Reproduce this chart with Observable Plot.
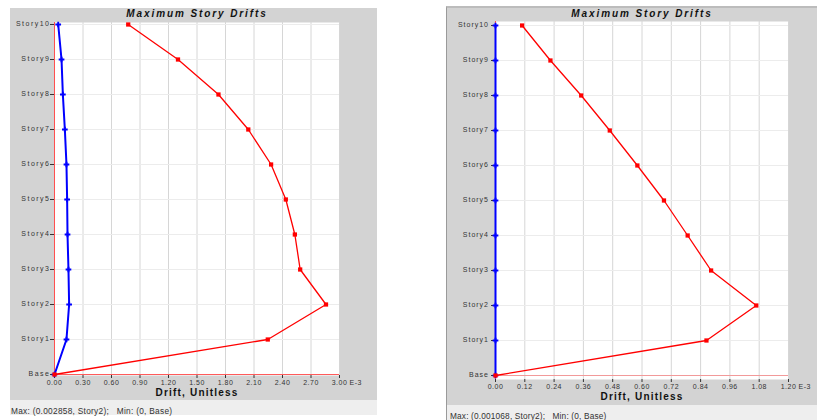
<!DOCTYPE html>
<html>
<head>
<meta charset="utf-8">
<script src="https://cdn.jsdelivr.net/npm/d3@7"></script>
<script src="https://cdn.jsdelivr.net/npm/@observablehq/plot@0.6"></script>
<style>
  html, body { margin: 0; padding: 0; background: #ffffff; }
  #root { position: relative; width: 817px; height: 420px; overflow: hidden; font-family: "Liberation Sans", Arial, sans-serif; }
  .panel { position: absolute; background: #d3d3d3; }
  .panel svg { display: block; }
  .status { position: absolute; background: #eeeeee; font-size: 8.3px; color: #333; white-space: pre; }
  .status span { position: absolute; left: 1px; }
</style>
</head>
<body>
<div id="root">
  <div class="panel" id="left" style="left:10px; top:8px; width:367px; height:392px;"></div>
  <div class="status" style="left:10px; top:400px; width:367px; height:15px;"><span id="lstat" style="top:6px; letter-spacing:0.28px;"></span></div>
  <div class="panel" id="right" style="left:446px; top:6px; width:371px; height:399px; border-left:1px solid #9a9a9a; box-sizing:border-box; border-top:2px solid #bcbcbc;"></div>
  <div class="status" style="left:446px; top:405px; width:371px; height:15px; border-left:1px solid #9a9a9a; box-sizing:border-box;"><span id="rstat" style="top:6px; left:3px; letter-spacing:0.16px;"></span></div>
</div>
<script>
const stories = ["Story10","Story9","Story8","Story7","Story6","Story5","Story4","Story3","Story2","Story1","Base"];

// Left chart (units of E-3)
const leftRed  = [0.776, 1.300, 1.726, 2.040, 2.280, 2.435, 2.530, 2.586, 2.858, 2.245, 0];
const leftBlue = [0.039, 0.074, 0.088, 0.109, 0.126, 0.133, 0.137, 0.147, 0.154, 0.126, 0];
const leftTicks = [0, 0.30, 0.60, 0.90, 1.20, 1.50, 1.80, 2.10, 2.40, 2.70, 3.00];
const leftStatus = "Max: (0.002858, Story2);   Min: (0, Base)";

// Right chart (units of E-3)
const rightRed  = [0.109, 0.225, 0.351, 0.468, 0.581, 0.690, 0.787, 0.883, 1.068, 0.864, 0];
const rightBlue = [0, 0, 0, 0, 0, 0, 0, 0, 0, 0, 0];
const rightTicks = [0, 0.12, 0.24, 0.36, 0.48, 0.60, 0.72, 0.84, 0.96, 1.08, 1.20];
const rightStatus = "Max: (0.001068, Story2);   Min: (0, Base)";

const titleText = "Maximum Story Drifts";
const xLabelText = "Drift, Unitless";
const unitText = "E-3";

function makeChart(o) {
  const rows = stories.map((s, i) => ({story: s, red: o.red[i], blue: o.blue[i]}));
  const xmax = o.ticks[o.ticks.length - 1];
  const svg = Plot.plot({
    width: o.width, height: o.height,
    marginLeft: o.ml, marginRight: o.mr, marginTop: o.mt, marginBottom: o.mb,
    style: {background: "transparent", fontFamily: "Liberation Sans, Arial, sans-serif", fontSize: "7px", overflow: "visible"},
    x: {domain: [0, xmax], axis: null},
    y: {type: "point", domain: stories, padding: 0, axis: null},
    marks: [
      Plot.frame({fill: "white", stroke: "none"}),
      Plot.gridX(o.ticks, {stroke: "#d6d6d6", strokeOpacity: 1, strokeWidth: 1}),
      Plot.gridY(stories, {stroke: "#ececec", strokeOpacity: 1, strokeWidth: 1}),
      Plot.ruleY(["Base"], {stroke: o.baseColor, strokeWidth: 1.2}),
      Plot.ruleX([0], {stroke: "#ff5050", strokeWidth: 1}),
      Plot.axisX(o.ticks, {tickSize: 3, tickPadding: 1.5, stroke: "#333", fill: "#333", label: null, tickFormat: d => d.toFixed(2), ariaDescription: "xticks"}),
      Plot.text([unitText], {x: xmax, frameAnchor: "bottom", text: d => d, textAnchor: "start", lineAnchor: "top", dx: 10, dy: 4.5, fill: "#333", ariaDescription: "xunit"}),
      Plot.axisY(stories, {tickSize: 4, tickPadding: 0, stroke: "#333", fill: "#333", label: null, tickFormat: () => ""}),
      Plot.axisY(stories, {tickSize: 0, tickPadding: 4 + o.yPad, dy: -1, fill: "#333", label: null, ariaDescription: "yticks"}),
      Plot.line(rows, {x: "blue", y: "story", stroke: "#0000ff", strokeWidth: 2}),
      Plot.dot(rows, {x: "blue", y: "story", symbol: "cross", r: 2.4, fill: "#0000ff", stroke: "none"}),
      Plot.line(rows, {x: "red", y: "story", stroke: "#ff0000", strokeWidth: 1.3}),
      Plot.dot(rows, {x: "red", y: "story", symbol: "square", r: 2.4, fill: "#ff0000", stroke: "none"}),
      Plot.text([titleText], {frameAnchor: "top", text: d => d, lineAnchor: "middle", dy: o.titleDy, fontSize: 10, fontWeight: "bold", fontStyle: "italic", fill: "#111", ariaDescription: "title"}),
      Plot.text([xLabelText], {frameAnchor: "bottom", text: d => d, lineAnchor: "middle", dy: 17, fontSize: 10, fontWeight: "bold", fill: "#111", ariaDescription: "xlabel"})
    ]
  });
  const s = d3.select(svg);
  s.selectAll('g[aria-description="title"] text').style("letter-spacing", "1.9px");
  s.selectAll('g[aria-description="xlabel"] text').style("letter-spacing", "1.2px");
  s.selectAll('g[aria-description="xticks"] text').style("letter-spacing", "0.5px");
  s.selectAll('g[aria-description="xunit"] text').style("letter-spacing", "0.5px");
  s.selectAll('g[aria-description="yticks"] text').style("letter-spacing", o.yLs);
  return svg;
}

document.getElementById("left").appendChild(makeChart({
  width: 367, height: 392, ml: 44, mr: 38, mt: 14, mb: 25,
  red: leftRed, blue: leftBlue, ticks: leftTicks, baseColor: "#ff5a5a", titleDy: -8.3,
  yPad: 0, yLs: "1.5px"
}));
document.getElementById("right").appendChild(makeChart({
  width: 370, height: 397, ml: 48, mr: 29, mt: 13, mb: 26,
  red: rightRed, blue: rightBlue, ticks: rightTicks, baseColor: "#f29a9a", titleDy: -7.8,
  yPad: 2.5, yLs: "1px"
}));
document.getElementById("lstat").textContent = leftStatus;
document.getElementById("rstat").textContent = rightStatus;
</script>
</body>
</html>
